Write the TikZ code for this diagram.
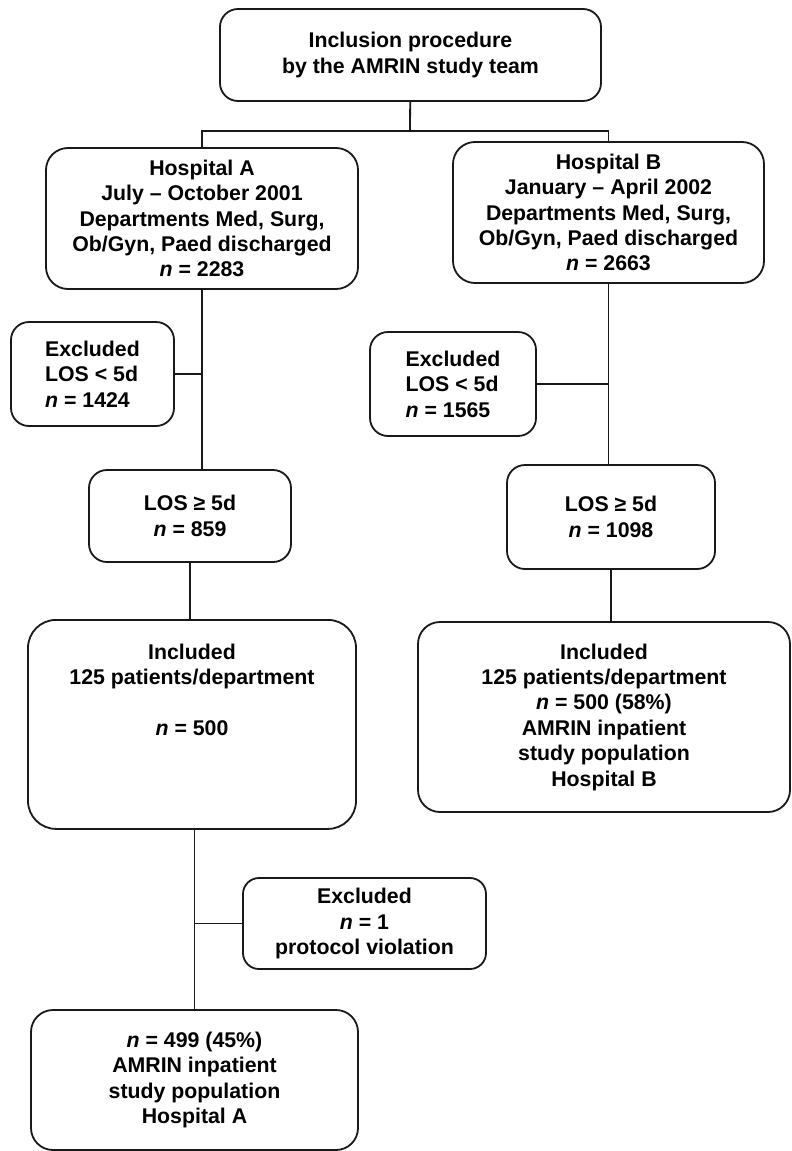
\documentclass[tikz,border=0pt]{standalone}
\usepackage{fontspec}
\setmainfont{Liberation Sans}
\usetikzlibrary{positioning, calc}
\tikzset{
  conn/.style={line width=1.8pt, black!90}
}

\begin{document}
\begin{tikzpicture}[x=1pt, y=-1pt,
  font=\fontsize{21.3}{25.4}\selectfont\bfseries,
  box/.style={rectangle, draw=black!90, line width=1.8pt, rounded corners=18pt,
              inner sep=0pt, align=center}]
  \useasboundingbox (0,0) rectangle (792,1151);

  \node[box, minimum width=381pt, minimum height=92pt] (team) at (410.5,55)
    {Inclusion procedure\\by the AMRIN study team};
  \node[box, minimum width=312pt, minimum height=141pt, rounded corners=22pt] (hospA) at (202,218.5)
    {Hospital A\\July -- October 2001\\Departments Med, Surg,\\Ob/Gyn, Paed discharged\\\textit{n} = 2283};
  \node[box, minimum width=311pt, minimum height=141pt, rounded corners=22pt] (hospB) at (608.5,212.5)
    {Hospital B\\January -- April 2002\\Departments Med, Surg,\\Ob/Gyn, Paed discharged\\\textit{n} = 2663};
  \node[box, align=left, minimum width=163pt, minimum height=104pt] (exA) at (92.5,374)
    {Excluded\\LOS < 5d\\\textit{n} = 1424};
  \node[box, align=left, minimum width=166pt, minimum height=104pt] (exB) at (453,384)
    {Excluded\\LOS < 5d\\\textit{n} = 1565};
  \node[box, minimum width=202pt, minimum height=92pt] (losA) at (190,516)
    {LOS ≥ 5d\\\textit{n} = 859};
  \node[box, minimum width=208pt, minimum height=104pt] (losB) at (611,517)
    {LOS ≥ 5d\\\textit{n} = 1098};
  \node[box, align=flush center, anchor=north, minimum width=328pt, text width=300pt,
        text height=39.6pt, text depth=169.4pt, rounded corners=28pt] (incA) at (192,619)
    {Included\\125 patients/department\\[25.4pt]\textit{n} = 500};
  \node[box, minimum width=372pt, minimum height=190pt, rounded corners=22pt] (incB) at (604,717)
    {Included\\125 patients/department\\\textit{n} = 500 (58\%)\\AMRIN inpatient\\study population\\Hospital B};
  \node[box, minimum width=243pt, minimum height=91pt, rounded corners=16pt] (exP) at (364.5,923.5)
    {Excluded\\\textit{n} = 1\\protocol violation};
  \node[box, minimum width=327pt, minimum height=140pt, rounded corners=22pt] (popA) at (194.5,1080)
    {\textit{n} = 499 (45\%)\\AMRIN inpatient\\study population\\Hospital A};

  \coordinate (split) at (410,131);
  \draw[conn] (team) -- (split);
  \draw[conn] (hospA.north) |- (split) -| (hospB.north);

  \foreach \f/\t in {hospA/losA,hospB/losB,losA/incA,losB/incB}
    \draw[conn] (\f) -- (\f |- \t.north);
  \draw[conn] (popA) -- (popA |- incA.south);

  \foreach \e/\m in {exA/hospA,exB/hospB,exP/popA}
    \draw[conn] (\e) -- (\e -| \m);
\end{tikzpicture}
\end{document}
